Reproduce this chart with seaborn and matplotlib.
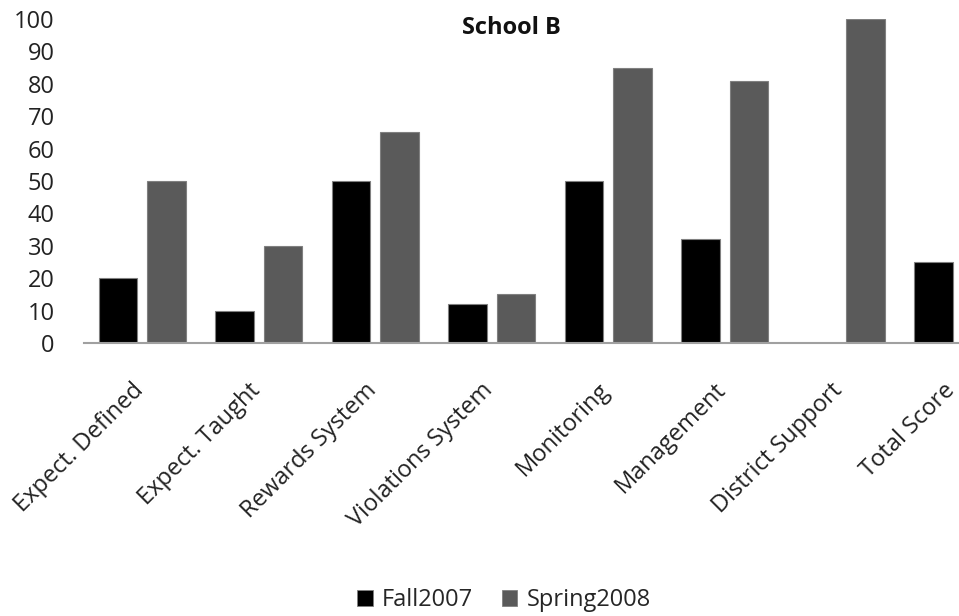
import pandas as pd
import numpy as np
import matplotlib.pyplot as plt
import matplotlib.transforms as mtransforms
import seaborn as sns

# 数据
categories = ['Expect. Defined', 'Expect. Taught', 'Rewards System', 'Violations System',
              'Monitoring', 'Management', 'District Support', 'Total Score']
fall2007 = [20, 10, 50, 12, 50, 32, 0, 25]
spring2008 = [50, 30, 65, 15, 85, 81, 100, 61]
series_names = ['Fall2007', 'Spring2008']
y_ticks = [0, 10, 20, 30, 40, 50, 60, 70, 80, 90, 100]

df = pd.DataFrame({
    'category': categories * 2,
    'score': fall2007 + spring2008,
    'series': [series_names[0]] * len(categories) + [series_names[1]] * len(categories),
})

sns.set_style('white')
plt.rcParams['font.family'] = ['Open Sans', 'DejaVu Sans']

fig = plt.figure(figsize=(9.59, 6.16), dpi=100)
# 坐标区右侧超出画布，最后一根柱子被裁掉
ax = fig.add_axes([84 / 959, 273 / 616, 932 / 959, 324 / 616])

sns.barplot(data=df, x='category', y='score', hue='series', order=categories,
            hue_order=series_names, palette=['#000000', '#5a5a5a'],
            width=0.836, gap=0.21, edgecolor='#808080', linewidth=0.8,
            ax=ax, legend=False)

ax.set_ylim(0, 100)
ax.set_xlim(-0.5, len(categories) - 0.5)
ax.set_yticks(y_ticks)
ax.set_yticklabels([str(v) for v in y_ticks], fontsize=17, color='#222222')
ax.tick_params(axis='y', length=0, pad=21)
ax.tick_params(axis='x', length=0, pad=34.5)
ax.set_xticks(range(len(categories)))
ax.set_xticklabels(categories, rotation=45, ha='right', va='baseline',
                   rotation_mode='anchor', fontsize=17, color='#222222')
# 标签右端略偏右，最后一个留在画布内
labels = ax.get_xticklabels()
for i, lab in enumerate(labels):
    dx = -2 if i == len(labels) - 1 else 2
    offset = mtransforms.ScaledTranslation(dx / 100, 0, fig.dpi_scale_trans)
    lab.set_transform(lab.get_transform() + offset)
ax.set_xlabel('')
ax.set_ylabel('')

for side in ['top', 'right', 'left']:
    ax.spines[side].set_visible(False)
ax.spines['bottom'].set_color('#a0a0a0')
ax.spines['bottom'].set_linewidth(1.5)

fig.text(511 / 959, 1 - 28 / 616, 'School B', ha='center', va='center',
         fontsize=17, fontweight='bold', color='#111111')

handles = [plt.Rectangle((0, 0), 1, 1, facecolor=c, edgecolor='#808080', linewidth=0.6)
           for c in ['#000000', '#5a5a5a']]
fig.legend(handles, series_names, loc='center', bbox_to_anchor=(504 / 959, 1 - 600 / 616),
           ncol=2, frameon=False, fontsize=17, handlelength=0.65, handleheight=0.65,
           handletextpad=0.4, columnspacing=1.2)

fig.savefig('out.png', dpi=100)
